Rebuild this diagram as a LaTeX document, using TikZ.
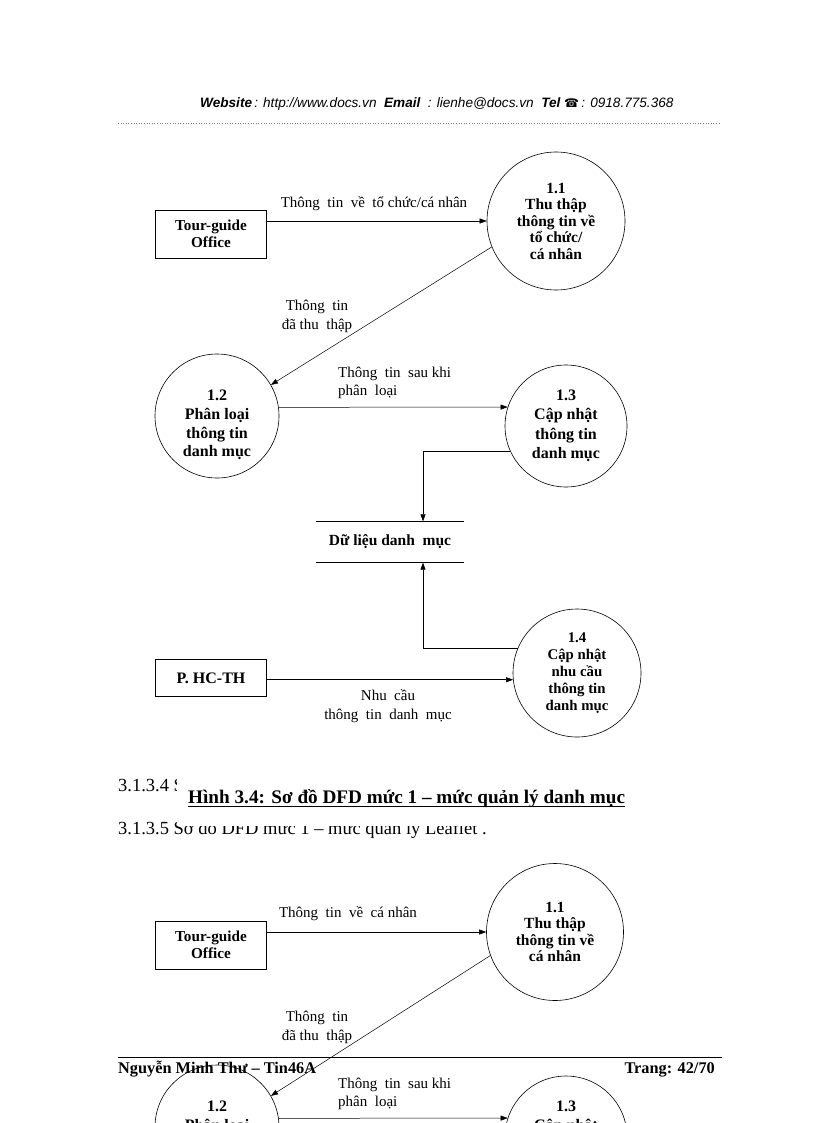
\documentclass[tikz,border=0pt]{standalone}
\usepackage{fontspec}
\setmainfont{Liberation Serif}
\newfontfamily\hdrfont{Liberation Sans}
\newfontfamily\symfont{DejaVu Sans}
\usetikzlibrary{arrows.meta,calc}
\begin{document}
\begin{tikzpicture}[x=1pt,y=-1pt,
  proc/.style={circle,draw,line width=0.6pt,inner sep=0pt,align=center,
    font=\fontsize{15}{16.5}\selectfont\bfseries},
  ptext/.style={inner sep=0pt,align=center,font=\fontsize{16}{18.6}\selectfont\bfseries},
  ent/.style={rectangle,draw,line width=0.6pt,minimum width=111pt,minimum height=48pt,
    inner sep=0pt,align=center,font=\fontsize{15.2}{17}\selectfont\bfseries},
  flow/.style={draw,line width=0.5pt,-{Triangle[length=7pt,width=5pt]}},
  lbl/.style={inner sep=0pt,align=center,font=\fontsize{15}{19}\selectfont},
  lbll/.style={inner sep=0pt,align=left,font=\fontsize{15}{18.5}\selectfont},
  hdr/.style={inner sep=0pt,anchor=base west,font=\fontsize{13.6}{15}\hdrfont\itshape},
  sec/.style={inner sep=0pt,anchor=base west,font=\fontsize{18.5}{20}\selectfont},
  foot/.style={inner sep=0pt,font=\fontsize{16.3}{18}\selectfont\bfseries}]
\useasboundingbox (0,0) rectangle (816,1123);
\clip (0,0) rectangle (816,1123);
% header
\node[hdr] (hd) at (200,108) {\textbf{Website}\,: http://www.docs.vn\ \ \textbf{Email}\ \ : lienhe@docs.vn\ \ \textbf{Tel}\ {\symfont\upshape\fontsize{12}{13}\selectfont ☎}\,: 0918.775.368};
\coordinate (hl) at (118,123);
\coordinate (hr) at (720,123);
\draw[gray,line width=0.6pt,dotted] (hl) -- (hr);

% ===== diagram 1 =====
\node[ent] (tg) at (211,234) {Tour-guide\\Office};
\node[proc,minimum size=138pt,font=\fontsize{15.5}{16.5}\selectfont\bfseries] (c11) at (556,221) {1.1\\Thu thập\\thông tin về\\tổ chức/\\cá nhân};
\node[proc,minimum size=124pt] (c12) at (217,416) {};
\node[ptext] (c12t) at (217,425) {1.2\\Phân loại\\thông tin\\danh mục};
\node[proc,minimum size=122pt,font=\fontsize{16}{19.5}\selectfont\bfseries] (c13) at (566,426) {1.3\\Cập nhật\\thông tin\\danh mục};
\node[proc,minimum size=128pt,font=\fontsize{14.8}{17.2}\selectfont\bfseries] (c14) at (577,673) {1.4\\Cập nhật\\nhu cầu\\thông tin\\danh mục};
\node[inner sep=0pt,minimum width=148pt,minimum height=41pt,font=\fontsize{15.5}{17}\selectfont\bfseries] (ds) at (390,542) {Dữ liệu danh\ \ mục};
\draw[line width=0.6pt] (ds.north west) -- (ds.north east);
\draw[line width=0.6pt] (ds.south west) -- (ds.south east);
\node[ent,minimum height=37pt,font=\fontsize{16}{17}\selectfont\bfseries] (hc) at (211,678) {P. HC-TH};

\draw[flow] (tg.east |- c11.west) -- (c11.west);
\node[lbl] (l1) at (374,204) {Thông\ \ tin\ \ về\ \ tổ\ chức/cá\ nhân};
\draw[flow] (c11.202) -- (c12.30);
\node[lbl] (l2) at (317,316) {Thông\ \ tin\\đã thu\ \ thập};
\draw[flow] (c12.8) -- (c13.162.27);
\node[lbll,anchor=west] (l3) at (338,383) {Thông\ \ tin\ \ sau\ khi\\phân\ \ loại};
\draw[flow] (c13.204) -| ([xshift=33pt]ds.north);
\draw[flow] (c14.157) -| ([xshift=33pt]ds.south);
\draw[flow] (hc.east |- c14.186) -- (c14.186);
\node[lbl] (l4) at (388,706) {Nhu\ \ cầu\\thông\ \ tin\ \ danh\ \ mục};

% ===== section text / caption =====
\node[sec] (s4) at (118,791) {3.1.3.4 Sơ đồ DFD mức 1 – mức quản lý danh mục};
\node[sec] (s5) at (118,834) {3.1.3.5 Sơ đồ DFD mức 1 – mức quản lý Leaflet .};
\fill[white] (177,777) rectangle (640,826);
\node[inner sep=0pt,anchor=base west,font=\fontsize{19.2}{21}\selectfont\bfseries] (cap) at (188,803) {Hình 3.4: Sơ đồ DFD mức 1 – mức quản lý danh mục};
\draw[line width=0.9pt] ([yshift=-3.5pt]cap.base west) -- ([yshift=-3.5pt]cap.base east);

% ===== diagram 2 =====
\begin{scope}[yshift=-711pt]
\node[ent] (tgb) at (211,234) {Tour-guide\\Office};
\node[proc,minimum size=137pt,font=\fontsize{15.5}{16.5}\selectfont\bfseries] (d11) at (555,221) {1.1\\Thu thập\\thông tin về\\cá nhân};
\node[proc,minimum size=124pt] (d12) at (217,416) {};
\node[ptext] (d12t) at (217,425) {1.2\\Phân loại\\thông tin\\danh mục};
\node[proc,minimum size=122pt,font=\fontsize{16}{19.5}\selectfont\bfseries] (d13) at (566,426) {1.3\\Cập nhật\\thông tin\\danh mục};
\draw[flow] (tgb.east |- d11.west) -- (d11.west);
\node[lbl] (m1) at (348,203) {Thông\ \ tin\ \ về\ \ cá nhân};
\draw[flow] (d11.200) -- (d12.30);
\node[lbl] (m2) at (317,316) {Thông\ \ tin\\đã thu\ \ thập};
\draw[flow] (d12.8) -- (d13.162.27);
\node[lbll,anchor=west] (m3) at (338,383) {Thông\ \ tin\ \ sau\ khi\\phân\ \ loại};
\end{scope}

% footer
\coordinate (fl) at (118,1057);
\coordinate (fr) at (722,1057);
\draw[line width=0.6pt] (fl) -- (fr);
\node[foot,anchor=base west] (fn) at (118,1073) {Nguyễn Minh Thư – Tin46A};
\node[foot,anchor=base east] (fp) at (715,1073) {Trang: 42/70};
\end{tikzpicture}
\end{document}
